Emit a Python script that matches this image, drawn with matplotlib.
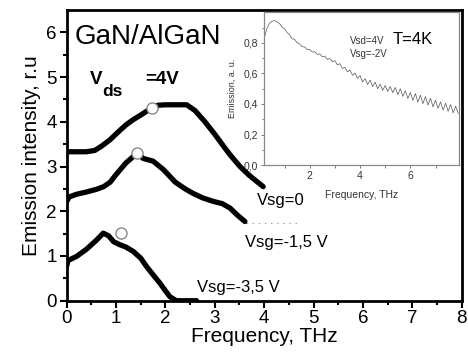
import matplotlib
matplotlib.use("Agg")
import matplotlib.pyplot as plt
import numpy as np

plt.rcParams["font.family"] = ["Liberation Sans", "DejaVu Sans"]

# main curves (Vsg = 0, -1.5, -3.5 V)
x_vsg0 = [0, 0.2, 0.4, 0.57, 0.7, 0.88, 1.05, 1.2, 1.35, 1.5, 1.72, 1.85, 2.0,
          2.2, 2.43, 2.6, 2.8, 3.0, 3.2, 3.31, 3.51, 3.7, 3.98]
y_vsg0 = [3.33, 3.33, 3.33, 3.36, 3.45, 3.60, 3.78, 3.93, 4.05, 4.15, 4.31, 4.37,
          4.38, 4.38, 4.38, 4.25, 4.00, 3.72, 3.42, 3.26, 3.00, 2.80, 2.55]

x_vsg15 = [0, 0.05, 0.2, 0.4, 0.6, 0.75, 0.88, 1.0, 1.2, 1.43, 1.55, 1.75, 1.96,
           2.2, 2.4, 2.56, 2.75, 2.97, 3.15, 3.31, 3.45, 3.61]
y_vsg15 = [2.22, 2.32, 2.38, 2.43, 2.49, 2.55, 2.65, 2.82, 3.08, 3.30, 3.18, 3.12,
           2.93, 2.65, 2.50, 2.40, 2.30, 2.22, 2.17, 2.07, 1.92, 1.77]

x_vsg35 = [0, 0.03, 0.2, 0.4, 0.6, 0.74, 0.85, 0.95, 1.08, 1.2, 1.35, 1.5, 1.62,
           1.75, 1.89, 2.0, 2.09, 2.22, 2.4, 2.63]
y_vsg35 = [0.78, 0.90, 0.99, 1.15, 1.35, 1.51, 1.45, 1.32, 1.25, 1.20, 1.10, 0.95,
           0.76, 0.58, 0.39, 0.22, 0.09, 0.0, 0.0, 0.0]

circles_x = [1.72, 1.43, 1.09]
circles_y = [4.31, 3.30, 1.51]

tail_x = [3.64, 4.68]
tail_y = [1.73, 1.73]

# inset spectrum, T=4K
inset_x = np.round(np.arange(0.2, 7.95, 0.1), 2)
inset_y = [0.835, 0.895, 0.928, 0.942, 0.946, 0.938, 0.927, 0.903, 0.893, 0.868,
           0.853, 0.826, 0.824, 0.800, 0.794, 0.775, 0.774, 0.755, 0.757, 0.740,
           0.742, 0.724, 0.728, 0.709, 0.713, 0.693, 0.697, 0.676, 0.684, 0.656,
           0.664, 0.633, 0.640, 0.610, 0.622, 0.588, 0.602, 0.568, 0.586, 0.544,
           0.566, 0.528, 0.556, 0.514, 0.543, 0.500, 0.530, 0.489, 0.521, 0.482,
           0.515, 0.474, 0.508, 0.462, 0.500, 0.450, 0.486, 0.436, 0.475, 0.424,
           0.468, 0.412, 0.458, 0.402, 0.448, 0.393, 0.437, 0.381, 0.425, 0.372,
           0.414, 0.360, 0.405, 0.352, 0.396, 0.342, 0.386, 0.338]

fig = plt.figure(figsize=(4.68, 3.52), dpi=100)
ax = fig.add_axes([0.1425, 0.1457, 0.844, 0.826])

for xs, ys in [(x_vsg0, y_vsg0), (x_vsg15, y_vsg15), (x_vsg35, y_vsg35)]:
    ax.plot(xs, ys, color="black", lw=3.8, solid_capstyle="round",
            solid_joinstyle="round", zorder=3)
ax.plot(tail_x, tail_y, color="#aaaaaa", lw=0.8, ls=(0, (1.5, 4)), zorder=2)
ax.plot(circles_x, circles_y, "o", ms=8, mfc="white", mec="#888888", mew=1.0,
        zorder=4)

ax.set_xlim(0, 8)
ax.set_ylim(0, 6.5)
ax.set_xticks(range(0, 9))
ax.set_yticks(range(0, 7))
ax.set_xticks(np.arange(0.5, 8, 1), minor=True)
ax.set_yticks(np.arange(0.5, 6.5, 1), minor=True)
ax.tick_params(which="major", direction="out", length=5, width=1.5, labelsize=13.5,
               pad=2)
ax.tick_params(which="minor", direction="out", length=3, width=1.5)
for sp in ax.spines.values():
    sp.set_linewidth(2)
ax.set_xlabel("Frequency, THz", fontsize=15, labelpad=0)
ax.set_ylabel("Emission intensity, r.u", fontsize=15, labelpad=4)

ax.text(0.17, 5.73, "GaN/AlGaN", fontsize=20)
ax.text(0.47, 4.84, "V", fontsize=13.5, fontweight="bold")
ax.text(0.72, 4.57, "ds", fontsize=12.5, fontweight="bold")
ax.text(1.585, 4.84, "=4V", fontsize=13.5, fontweight="bold")
ax.text(3.85, 2.15, "Vsg=0", fontsize=12)
ax.text(3.61, 1.21, "Vsg=-1,5 V", fontsize=12)
ax.text(2.63, 0.2, "Vsg=-3,5 V", fontsize=12)

ins = fig.add_axes([0.565, 0.531, 0.4167, 0.434])
ins.plot(inset_x, inset_y, color="#555555", lw=0.5)
ins.set_xlim(0.2, 7.95)
ins.set_ylim(0, 1.0)
ins.set_xticks([2, 4, 6])
ins.set_xticks([1, 3, 5, 7], minor=True)
ins.set_yticks([0, 0.2, 0.4, 0.6, 0.8])
ins.set_yticklabels(["0,0", "0,2", "0,4", "0,6", "0,8"])
ins.set_yticks(np.arange(0.1, 1.0, 0.2), minor=True)
ins.tick_params(which="both", direction="out", length=2.5, width=0.6,
                colors="#666666", labelcolor="#333333", labelsize=7.5, pad=2)
ins.tick_params(which="minor", length=1.8)
for sp in ins.spines.values():
    sp.set_color("#888888")
    sp.set_linewidth(0.9)
ins.set_xlabel("Frequency, THz", fontsize=7.5, color="#333333", labelpad=6)
ins.set_ylabel("Emission, a. u.", fontsize=6.5, color="#333333", labelpad=5)
ins.text(3.6, 0.79, "Vsd=4V", fontsize=7, color="#333333")
ins.text(3.6, 0.71, "Vsg=-2V", fontsize=7, color="#333333")
ins.text(5.3, 0.79, "T=4K", fontsize=12)

fig.savefig("out.png", dpi=100)
